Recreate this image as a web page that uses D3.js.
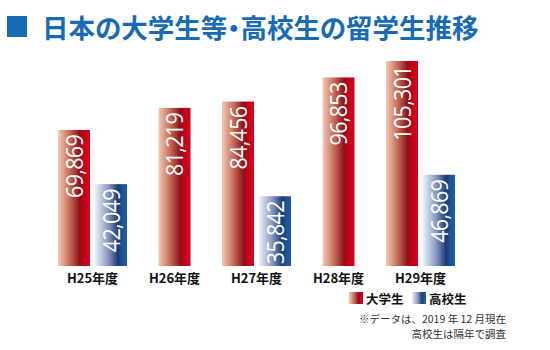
<!DOCTYPE html>
<html>
<head>
<meta charset="utf-8">
<script src="https://cdn.jsdelivr.net/npm/d3@7"></script>
<style>
  html, body { margin: 0; padding: 0; background: #ffffff; }
  svg { display: block; }
  .ttl { font-feature-settings: "palt"; }
</style>
</head>
<body>
<div id="chart"></div>
<script>
// ---- data ----
const title = "日本の大学生等・高校生の留学生推移";
const categories = ["H25年度", "H26年度", "H27年度", "H28年度", "H29年度"];
const seriesNames = ["大学生", "高校生"];
const universityValues = [69869, 81219, 84456, 96853, 105301];
const highSchoolValues = [42049, null, 35842, null, 46869];
const noteLines = ["※データは、2019 年 12 月現在", "高校生は隔年で調査"];

// ---- layout ----
const W = 550, H = 350;
const svg = d3.select("#chart").append("svg").attr("width", W).attr("height", H);
const defs = svg.append("defs");

function grad(id, stops) {
  const g = defs.append("linearGradient").attr("id", id)
    .attr("x1", "0%").attr("x2", "100%").attr("y1", "0%").attr("y2", "0%");
  stops.forEach(([o, c]) => g.append("stop").attr("offset", o).attr("stop-color", c));
}
grad("gRed", [["0%", "#f3cbb6"], ["35%", "#c7705a"], ["68%", "#8c1118"], ["80%", "#c4001a"], ["100%", "#d6001c"]]);
grad("gBlue", [["0%", "#eef0f8"], ["40%", "#8a9cc4"], ["72%", "#1c3a78"], ["85%", "#1a5595"], ["100%", "#1a61a8"]]);
const fills = ["url(#gRed)", "url(#gBlue)"];

const blue = "#176bb6";
// title
svg.append("rect").attr("x", 7).attr("y", 16).attr("width", 20).attr("height", 21).attr("fill", blue);
svg.append("text").attr("class", "ttl").attr("x", 42).attr("y", 38)
  .attr("font-family", "'Noto Sans CJK JP', sans-serif").attr("font-weight", 700)
  .attr("font-size", 26.5).attr("fill", blue).text(title);

// scales
const x = d3.scaleBand().domain(categories).range([51.5, 461.5]).padding(0);
const y = d3.scaleLinear().domain([0, d3.max(universityValues)]).range([266, 61]);
const barW = 32, gap = 5;

const rows = categories.map((c, i) => ({ c, vals: [universityValues[i], highSchoolValues[i]] }));
const bars = [];
rows.forEach(r => {
  const present = r.vals.map((v, k) => ({ v, k })).filter(d => d.v != null);
  const center = x(r.c) + x.bandwidth() / 2;
  const span = present.length * barW + (present.length - 1) * gap;
  const sub = d3.scaleBand().domain(present.map(d => d.k))
    .range([center - span / 2, center + span / 2])
    .paddingInner(present.length > 1 ? gap / (barW + gap) : 0);
  present.forEach(d => bars.push({ c: r.c, k: d.k, v: d.v, x0: sub(d.k), w: sub.bandwidth() }));
});

const g = svg.append("g");
g.selectAll("rect.bar").data(bars).join("rect").attr("class", "bar")
  .attr("x", d => d.x0).attr("y", d => y(d.v))
  .attr("width", d => d.w).attr("height", d => y(0) - y(d.v))
  .attr("fill", d => fills[d.k]);

const fmt = d3.format(",");
g.selectAll("text.val").data(bars).join("text").attr("class", "val")
  .attr("transform", d => `translate(${d.x0 + d.w / 2},${y(d.v) + 5}) rotate(-90) scale(0.9,1)`)
  .attr("text-anchor", "end").attr("dy", "0.36em")
  .attr("letter-spacing", -0.8)
  .attr("font-family", "'Open Sans', 'Noto Sans', sans-serif")
  .attr("font-size", 24).attr("fill", "#ffffff").text(d => fmt(d.v));

// category labels
svg.append("g").selectAll("text").data(categories).join("text")
  .attr("x", d => x(d) + x.bandwidth() / 2).attr("y", 283)
  .attr("text-anchor", "middle")
  .attr("font-family", "'Noto Sans CJK JP', sans-serif").attr("font-weight", 700)
  .attr("font-size", 13).attr("fill", "#111").text(d => d);

// legend
const legX = [349, 412];
const lg = svg.append("g").selectAll("g").data(seriesNames).join("g")
  .attr("transform", (d, i) => `translate(${legX[i]},292)`);
lg.append("rect").attr("width", 14).attr("height", 12).attr("fill", (d, i) => fills[i]);
lg.append("text").attr("x", 17).attr("y", 11.5)
  .attr("font-family", "'Noto Sans CJK JP', sans-serif").attr("font-weight", 700)
  .attr("font-size", 12.5).attr("fill", "#111").text(d => d);

// note
svg.append("g").selectAll("text").data(noteLines).join("text")
  .attr("x", 506).attr("y", (d, i) => 322.5 + i * 15.5)
  .attr("text-anchor", "end")
  .attr("font-family", "'Noto Sans CJK JP', sans-serif")
  .attr("font-size", 10.5).attr("fill", "#333").text(d => d);
</script>
</body>
</html>
